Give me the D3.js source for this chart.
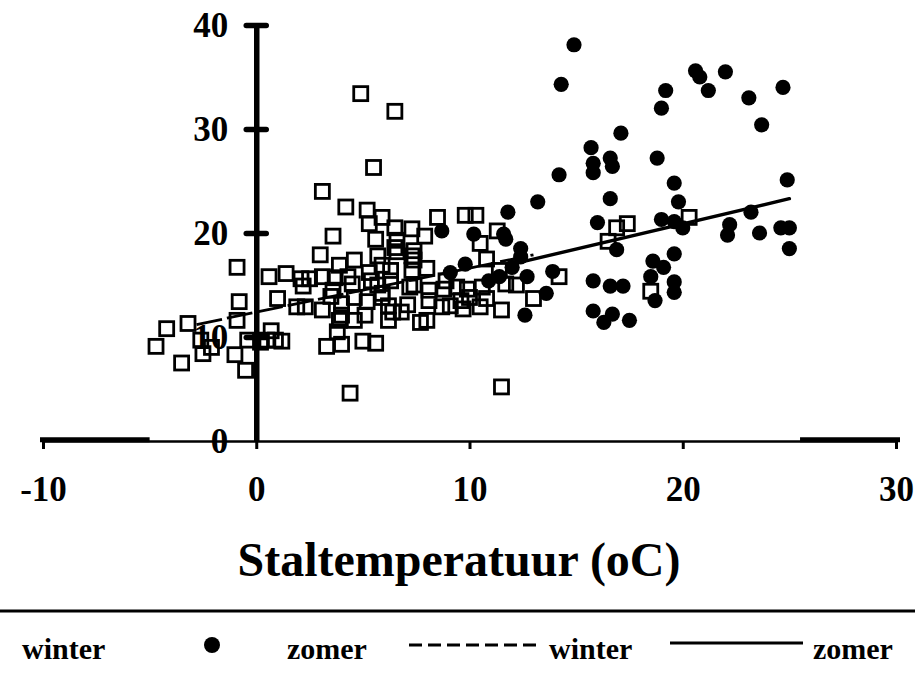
<!DOCTYPE html>
<html>
<head>
<meta charset="utf-8">
<script src="https://cdn.jsdelivr.net/npm/d3@7"></script>
<style>
  body { margin: 0; background: #fff; }
  text { font-family: "Liberation Serif", "Times New Roman", serif; font-weight: bold; fill: #000; }
</style>
</head>
<body>
<svg id="chart" width="915" height="689"></svg>
<script>
// Stall temperature (oC) vs. measured value, winter and summer (zomer) periods
const winterX = [-0.9,0.6,-0.8,1.0,-0.9,-3.2,-4.2,-4.7,-2.6,-2.5,-2.1,-3.5,-1.0,-0.4,-0.5,0.2,0.5,0.7,1.2,1.9,
  1.4,2.1,2.5,2.2,3.0,3.1,4.2,5.2,5.9,5.3,3.6,5.6,6.5,7.3,7.9,8.5,9.8,10.3,11.3,10.5,
  10.8,3.9,4.6,5.9,5.7,3.1,3.7,4.3,5.3,5.7,3.1,3.5,4.0,4.6,5.2,5.9,4.0,4.6,5.1,3.8,
  3.3,4.0,5.0,5.6,0.9,6.2,6.4,6.3,6.3,6.5,4.9,6.5,5.5,6.6,7.3,7.3,8.0,7.4,8.1,8.8,
  9.4,9.9,10.6,11.7,12.2,13.0,14.2,11.5,10.5,9.7,8.7,7.7,8.0,7.1,4.4,11.5,6.6,7.4,7.4,7.2,
  8.1,9.1,9.6,17.4,16.9,16.5,20.3,18.5,4.5,5.4,3.6,5.9,3.9,6.2,6.8,10.0,10.8,11.4,8.9,2.3];
const winterY = [16.7,15.8,13.4,13.7,11.6,11.3,10.8,9.1,9.7,8.4,9.0,7.5,8.3,9.7,6.8,9.5,9.7,10.6,9.6,12.9,
  16.1,15.6,15.6,14.9,17.9,24.0,22.5,22.2,21.5,20.9,19.7,19.4,20.5,20.4,19.7,21.5,21.7,21.7,20.2,19.0,
  17.5,16.9,17.4,16.9,17.8,15.8,15.7,15.8,16.2,15.0,12.6,13.9,13.2,13.8,13.4,13.8,12.1,11.6,12.1,10.5,
  9.1,9.3,9.6,9.4,9.7,13.0,12.4,15.4,16.4,18.6,33.4,31.7,26.3,18.2,17.8,16.4,16.6,15.0,14.5,14.6,
  14.8,14.6,14.8,15.1,15.0,13.7,15.8,12.6,12.9,12.7,12.9,11.4,11.6,13.1,4.6,5.2,19.3,18.3,17.4,14.8,
  13.5,13.0,13.5,20.9,20.5,19.2,21.5,14.4,15.1,15.4,14.5,14.2,11.6,11.6,12.4,13.8,13.7,16.4,15.4,12.9];

const zomerX = [14.9,14.3,20.6,20.8,22.0,19.2,21.2,24.7,23.1,19.0,23.7,17.1,15.7,16.6,16.7,15.8,15.8,18.8,14.2,19.6,
  24.9,13.2,16.6,19.8,11.8,16.0,19.0,20.0,19.6,22.2,22.1,23.2,23.6,24.6,25.0,25.0,16.9,19.6,18.6,19.1,
  13.9,11.6,12.4,15.8,16.6,17.2,18.5,18.7,19.6,19.6,15.8,16.7,16.3,17.5,13.6,12.6,12.7,12.4,8.7,10.2,
  11.7,9.8,9.1,11.4,10.9,12.0];
const zomerY = [38.1,34.3,35.6,35.0,35.5,33.7,33.7,34.0,33.0,32.0,30.4,29.6,28.2,27.2,26.4,26.7,25.8,27.2,25.6,24.8,
  25.1,23.0,23.3,23.0,22.0,21.0,21.3,20.5,21.1,20.8,19.8,22.0,20.0,20.5,20.5,18.5,18.4,18.0,17.3,16.7,
  16.3,19.9,18.5,15.4,14.9,14.9,15.8,13.5,15.3,14.3,12.5,12.2,11.4,11.6,14.2,12.1,15.8,17.7,20.2,19.9,
  19.4,17.0,16.2,15.8,15.4,16.7];

// Fitted trend lines (start and end points)
const winterFitX = [-2.8, 13.0];
const winterFitY = [11.2, 17.9];
const zomerFitX = [12.2, 25.0];
const zomerFitY = [17.1, 23.3];

const xTicks = [-10, 0, 10, 20, 30];
const yTicks = [0, 10, 20, 30, 40];
const xTitle = "Staltemperatuur (oC)";
const legendLabels = ["winter", "zomer", "winter", "zomer"];

const svg = d3.select("#chart");
const x = d3.scaleLinear().domain([-10, 30]).range([43, 896]);
const y = d3.scaleLinear().domain([0, 40]).range([441, 25]);
const plain = d => String(d);

// x axis
const xAxis = svg.append("g")
  .attr("transform", `translate(0,${y(0)})`)
  .call(d3.axisBottom(x).tickValues(xTicks).tickSize(8).tickSizeOuter(0).tickFormat(plain));
xAxis.select(".domain").attr("stroke", "#000").attr("stroke-width", 2.6);
xAxis.selectAll(".tick line").attr("stroke", "#000").attr("stroke-width", 3);
xAxis.selectAll(".tick text").attr("y", 60).attr("dy", 0).style("font-size", "35px");
// heavier end pieces of the baseline
[[x(-10) - 3, x(-5)], [x(25.5), x(30) + 4]].forEach(([a, b]) => {
  svg.append("line").attr("x1", a).attr("x2", b).attr("y1", y(0) - 1.3).attr("y2", y(0) - 1.3)
    .attr("stroke", "#000").attr("stroke-width", 5);
});

// y axis crossing at x = 0
const yAxis = svg.append("g")
  .attr("transform", `translate(${x(0)},0)`)
  .call(d3.axisLeft(y).tickValues(yTicks).tickSize(0).tickPadding(28).tickFormat(plain));
yAxis.select(".domain").attr("stroke", "#000").attr("stroke-width", 5.5);
yAxis.selectAll(".tick text").attr("dy", "0.34em").style("font-size", "35px");
yAxis.selectAll(".tick").filter(d => d > 0).append("line")
  .attr("x1", -10).attr("x2", 10).attr("stroke", "#000").attr("stroke-width", 5.5).attr("stroke-linecap", "round");

// winter points: open squares
const s = 14;
svg.append("g").selectAll("rect").data(winterX.map((v, i) => [v, winterY[i]])).join("rect")
  .attr("x", d => x(d[0]) - s / 2).attr("y", d => y(d[1]) - s / 2)
  .attr("width", s).attr("height", s)
  .attr("fill", "none").attr("stroke", "#000").attr("stroke-width", 2.8);

// zomer points: filled circles
svg.append("g").selectAll("circle").data(zomerX.map((v, i) => [v, zomerY[i]])).join("circle")
  .attr("cx", d => x(d[0])).attr("cy", d => y(d[1])).attr("r", 7.6).attr("fill", "#000");

// trend lines
const line = d3.line().x(d => x(d[0])).y(d => y(d[1]));
svg.append("path").datum(winterFitX.map((v, i) => [v, winterFitY[i]]))
  .attr("d", line).attr("fill", "none").attr("stroke", "#000").attr("stroke-width", 2.8)
  .attr("stroke-dasharray", "26,5");
svg.append("path").datum(zomerFitX.map((v, i) => [v, zomerFitY[i]]))
  .attr("d", line).attr("fill", "none").attr("stroke", "#000").attr("stroke-width", 3.4)
  .attr("stroke-linecap", "round");

// axis title
svg.append("text").attr("x", 459).attr("y", 576).attr("text-anchor", "middle")
  .style("font-size", "48px").text(xTitle);

// legend
svg.append("line").attr("x1", 0).attr("x2", 915).attr("y1", 611).attr("y2", 611)
  .attr("stroke", "#000").attr("stroke-width", 3);
const lg = svg.append("g");
const legendX = [22, 287, 549, 813];
legendLabels.forEach((t, i) => {
  lg.append("text").attr("x", legendX[i]).attr("y", 659).style("font-size", "30px").text(t);
});
lg.append("circle").attr("cx", 212).attr("cy", 645).attr("r", 8).attr("fill", "#000");
lg.append("line").attr("x1", 409).attr("x2", 538).attr("y1", 645).attr("y2", 645)
  .attr("stroke", "#000").attr("stroke-width", 3).attr("stroke-dasharray", "13,6");
lg.append("line").attr("x1", 670).attr("x2", 803).attr("y1", 643).attr("y2", 643)
  .attr("stroke", "#000").attr("stroke-width", 3);
</script>
</body>
</html>
